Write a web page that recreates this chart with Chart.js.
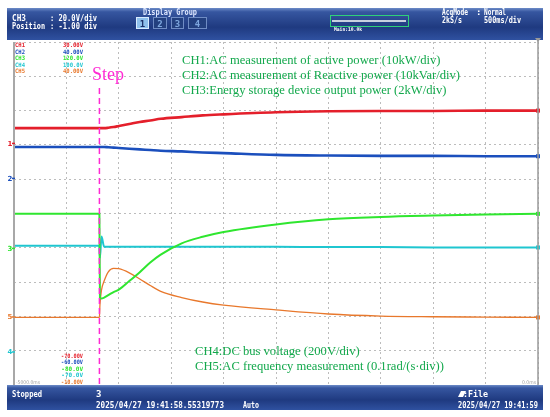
<!DOCTYPE html>
<html>
<head>
<meta charset="utf-8">
<script src="https://cdn.jsdelivr.net/npm/chart.js@4.4.1/dist/chart.umd.min.js"></script>
<style>
body{margin:0;background:#fff;}
#wrap{width:550px;height:417px;}
</style>
</head>
<body>
<div id="wrap"><canvas id="scope" width="550" height="417"></canvas></div>
<script>
// time base in ms, traces in screen divisions (0 = bottom edge, 10 = top edge)
const times = [-5000, -4185, -4180, -4165, -4140, -4100, -4050, -4000, -3900, -3800, -3700,
               -3600, -3400, -3200, -3000, -2500, -2000, -1500, -1000, -500, 0];
const ch1 = [7.49,7.49,7.49,7.49,7.49,7.50,7.52,7.55,7.61,7.67,7.71,7.76,7.81,7.86,7.89,7.95,7.98,7.99,7.99,8.00,8.00];
const ch2 = [6.94,6.94,6.94,6.94,6.94,6.93,6.92,6.91,6.89,6.87,6.85,6.83,6.81,6.78,6.76,6.71,6.69,6.68,6.68,6.67,6.67];
const ch3 = [4.99,4.99,2.54,2.52,2.55,2.62,2.71,2.78,3.03,3.29,3.57,3.80,4.13,4.32,4.46,4.68,4.83,4.90,4.94,4.97,4.99];
const ch4 = [4.06,4.06,3.70,4.33,4.03,4.03,4.03,4.03,4.03,4.03,4.03,4.03,4.03,4.03,4.03,4.03,4.02,4.02,4.01,4.01,4.01];
const ch5 = [1.97,1.97,2.33,2.77,3.03,3.30,3.40,3.39,3.27,3.09,2.90,2.73,2.55,2.42,2.33,2.19,2.07,2.01,1.99,1.98,1.97];
const stepTime = -4185;

const chNames = ['CH1', 'CH2', 'CH3', 'CH4', 'CH5'];
const chColors = ['#e41f2b', '#1b4fbd', '#2fe62f', '#1fc6d0', '#e8782c'];
const chTop = ['30.00V', '40.00V', '120.0V', '100.0V', '40.00V'];
const chBottom = ['-70.00V', '-60.00V', '-80.0V', '-70.0V', '-10.00V'];
const groundDiv = [7.05, 6.03, 3.99, 1.99, 0.97];   // ground markers on left edge
const notesTop = [
  'CH1:AC measurement of active power (10kW/div)',
  'CH2:AC measurement of Reactive power (10kVar/div)',
  'CH3:Energy storage device output power (2kW/div)'
];
const notesBottom = [
  'CH4:DC bus voltage (200V/div)',
  'CH5:AC frequency measurement (0.1rad/(s\u00b7div))'
];

function band(ctx, y0, y1) {
  const g = ctx.createLinearGradient(0, y0, 0, y1);
  g.addColorStop(0, '#6d8cc8');
  g.addColorStop(0.12, '#3656a0');
  g.addColorStop(0.6, '#1f3a80');
  g.addColorStop(1, '#2f51a0');
  ctx.fillStyle = g;
  ctx.fillRect(7, y0, 536, y1 - y0);
}

function txt(ctx, s, x, y, font, color, maxW, align) {
  ctx.font = font;
  ctx.fillStyle = color;
  ctx.textAlign = align || 'left';
  if (maxW) ctx.fillText(s, x, y, maxW); else ctx.fillText(s, x, y);
}

const scopeDecor = {
  id: 'scopeDecor',
  beforeDraw(chart) {
    const ctx = chart.ctx;
    ctx.save();
    ctx.fillStyle = '#fff';
    ctx.fillRect(0, 0, chart.width, chart.height);
    ctx.restore();
  },
  afterDatasetsDraw(chart) {
    const ctx = chart.ctx;
    const xs = chart.scales.x, ys = chart.scales.y;
    const a = chart.chartArea;
    ctx.save();
    // step marker
    const sx = xs.getPixelForValue(stepTime);
    ctx.strokeStyle = '#ff2ad4';
    ctx.lineWidth = 1.5;
    ctx.setLineDash([6, 4]);
    ctx.beginPath();
    ctx.moveTo(sx, 88);
    ctx.lineTo(sx, a.bottom);
    ctx.stroke();
    ctx.setLineDash([]);
    txt(ctx, 'Step', 92, 80, '18px "Liberation Serif"', '#ff2ad4');

    // end markers on right edge
    const ends = [ch1, ch2, ch3, ch4, ch5];
    ends.forEach((d, i) => {
      ctx.fillStyle = chColors[i];
      ctx.fillRect(a.right - 2, ys.getPixelForValue(d[d.length - 1]) - 2, 4, 4);
    });
    ctx.restore();
  },
  afterDraw(chart) {
    const ctx = chart.ctx;
    const ys = chart.scales.y;
    const a = chart.chartArea;
    ctx.save();
    // borders
    ctx.strokeStyle = '#a8a8a8';
    ctx.lineWidth = 2;
    ctx.beginPath();
    ctx.moveTo(a.left, a.top); ctx.lineTo(a.left, a.bottom);
    ctx.stroke();
    ctx.lineWidth = 1.5;
    ctx.strokeStyle = '#9a9a9a';
    ctx.beginPath();
    ctx.moveTo(a.right, a.top - 2); ctx.lineTo(a.right, a.bottom);
    ctx.stroke();

    // header
    band(ctx, 8, 40);
    const mono = 'bold 9px "DejaVu Sans Mono"';
    txt(ctx, 'CH3', 12, 21, mono, '#fff', 14);
    txt(ctx, ': 20.0V/div', 50, 21, mono, '#fff', 47);
    txt(ctx, 'Position', 12, 29, mono, '#fff', 33);
    txt(ctx, ': -1.00 div', 50, 29, mono, '#fff', 47);
    txt(ctx, 'Display Group', 143, 15, mono, '#dfe8ff', 54);
    const btn = [[136, 13], [153, 14], [171, 13], [188, 19]];
    btn.forEach((b, i) => {
      ctx.fillStyle = i === 0 ? '#8ec0ec' : '#23407f';
      ctx.fillRect(b[0], 17, b[1], 12);
      ctx.strokeStyle = i === 0 ? '#d8ecff' : '#6f8cc4';
      ctx.lineWidth = 1;
      ctx.strokeRect(b[0] + 0.5, 17.5, b[1] - 1, 11);
      txt(ctx, String(i + 1), b[0] + b[1] / 2, 27, mono, i === 0 ? '#1b2f66' : '#7fa8e0', 0, 'center');
    });
    ctx.strokeStyle = '#2fd07a';
    ctx.lineWidth = 1;
    ctx.strokeRect(330.5, 15.5, 78, 11);
    ctx.fillStyle = '#c8d0e0';
    ctx.fillRect(332, 20, 74, 2);
    txt(ctx, 'Main:10.0k', 334, 31, 'bold 5px "DejaVu Sans Mono"', '#fff', 28);
    txt(ctx, 'AcqMode', 442, 15, mono, '#fff', 26);
    txt(ctx, ':', 476, 15, mono, '#fff');
    txt(ctx, 'Normal', 484, 15, mono, '#fff', 22);
    txt(ctx, '2kS/s', 442, 23, mono, '#fff', 20);
    txt(ctx, '500ms/div', 484, 23, mono, '#fff', 37);
    // trigger mark
    ctx.fillStyle = '#9a9a9a';
    ctx.beginPath();
    ctx.moveTo(a.right - 3, a.top - 4); ctx.lineTo(a.right + 3, a.top - 4); ctx.lineTo(a.right, a.top);
    ctx.fill();

    // channel scale labels
    const tiny = 'bold 6px "DejaVu Sans Mono"';
    chNames.forEach((n, i) => {
      txt(ctx, n, 15, 47 + i * 6.5, tiny, chColors[i], 10);
      txt(ctx, chTop[i], 83, 47 + i * 6.5, tiny, chColors[i], 20, 'right');
      txt(ctx, chBottom[i], 83, 358 + i * 6.4, tiny, chColors[i], 22, 'right');
    });
    txt(ctx, '-5000.0ms', 16, 384, '5px "DejaVu Sans"', '#a0a0a0', 24);
    txt(ctx, '0.0ms', 536, 384, '5px "DejaVu Sans"', '#a0a0a0', 14, 'right');

    // ground markers
    groundDiv.forEach((g, i) => {
      const idx = [0, 1, 2, 4, 3][i];
      const y = ys.getPixelForValue(g);
      txt(ctx, String(idx + 1), 10, y + 2.5, 'bold 7px "DejaVu Sans"', chColors[idx], 0, 'center');
      ctx.fillStyle = chColors[idx];
      ctx.fillRect(12, y - 0.5, 3, 1.5);
    });

    // annotations
    const serif = '12.6px "Liberation Serif"';
    notesTop.forEach((s, i) => txt(ctx, s, 182, 64 + i * 15, serif, '#13a84c'));
    notesBottom.forEach((s, i) => txt(ctx, s, 195, 355 + i * 15, serif, '#13a84c'));

    // footer
    band(ctx, 385, 410);
    txt(ctx, 'Stopped', 12, 397, mono, '#fff', 30);
    txt(ctx, '3', 96, 397, mono, '#fff');
    txt(ctx, '2025/04/27 19:41:58.55319773', 96, 407.5, mono, '#fff', 128);
    txt(ctx, 'Auto', 243, 407.5, mono, '#fff', 16);
    ctx.fillStyle = '#fff';
    ctx.beginPath();
    ctx.moveTo(458, 397); ctx.lineTo(461, 391); ctx.lineTo(466, 391); ctx.lineTo(463, 397);
    ctx.fill();
    txt(ctx, ':File', 463, 397, mono, '#fff', 25);
    txt(ctx, '2025/04/27 19:41:59', 458, 407.5, mono, '#fff', 80);
    ctx.restore();
  }
};

const series = [ch1, ch2, ch3, ch4, ch5];
const widths = [2.6, 2.6, 2, 2, 1.3];
const datasets = series.map((vals, i) => ({
  label: chNames[i],
  data: times.map((t, k) => ({ x: t, y: vals[k] })),
  borderColor: chColors[i],
  borderWidth: widths[i],
  pointRadius: 0,
  cubicInterpolationMode: 'monotone',
  order: [5, 4, 1, 3, 2][i]
}));

const gridOpts = { color: '#bcbcbc', drawTicks: false, lineWidth: 1 };

new Chart(document.getElementById('scope').getContext('2d'), {
  type: 'line',
  data: { datasets: datasets },
  options: {
    responsive: false,
    animation: false,
    layout: { padding: { left: 14, top: 42, right: 12, bottom: 32 } },
    plugins: { legend: { display: false }, tooltip: { enabled: false } },
    scales: {
      x: {
        type: 'linear', min: -5000, max: 0,
        ticks: { display: false, stepSize: 500 },
        grid: gridOpts,
        border: { display: false, dash: [2, 3] }
      },
      y: {
        min: 0, max: 10,
        ticks: { display: false, stepSize: 1 },
        grid: gridOpts,
        border: { display: false, dash: [2, 3] }
      }
    }
  },
  plugins: [scopeDecor]
});
</script>
</body>
</html>
